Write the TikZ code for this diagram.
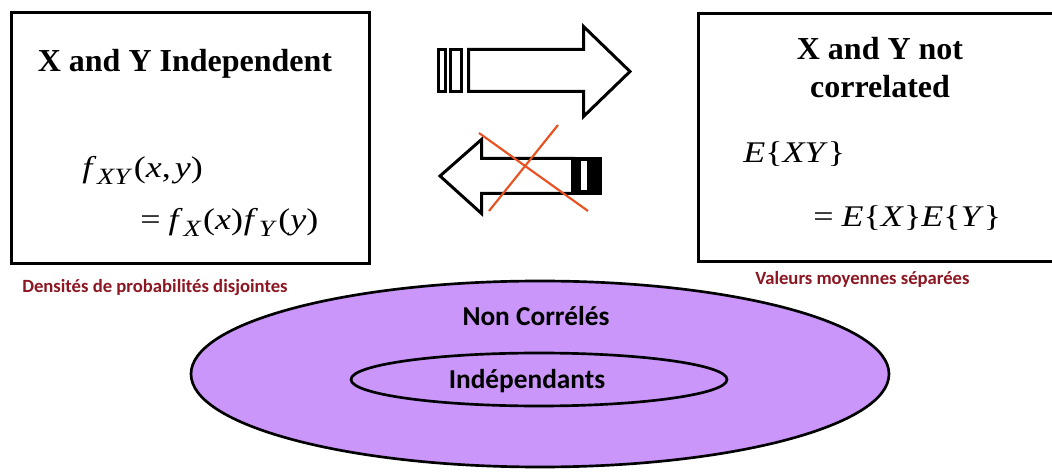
\documentclass[tikz,border=0pt]{standalone}
\usepackage{fontspec}
\setmainfont{Liberation Serif}
\newfontfamily\calib{Carlito}
\usetikzlibrary{shapes.geometric}
\definecolor{capred}{RGB}{140,22,34}
\definecolor{crossred}{RGB}{232,82,32}
\definecolor{lilac}{RGB}{202,150,250}
\newcommand{\mysub}[1]{\raisebox{-5pt}{\fontsize{17.5}{20}\selectfont\textit{#1}}}
\begin{document}
\begin{tikzpicture}[x=0.75pt,y=-0.75pt,
  box/.style={draw, line width=2.25pt, inner sep=0pt, rectangle},
  ttl/.style={font=\bfseries\fontsize{24}{28}\selectfont, inner sep=0pt, anchor=base},
  mth/.style={font=\fontsize{22.5}{26}\selectfont, inner sep=0pt, anchor=base west},
  capt/.style={font=\calib\bfseries\fontsize{14}{16}\selectfont, text=capred, inner sep=0pt, anchor=base west},
  elltxt/.style={font=\calib\bfseries\fontsize{20.5}{24}\selectfont, inner sep=0pt, anchor=base},
  ell/.style={draw, ellipse, line width=2pt, fill=lilac, inner sep=0pt},
  arr/.style={draw, line width=2.25pt, fill=white, line join=miter},
  crossline/.style={draw=crossred, line width=1.6pt}]
\clip (0,0) rectangle (1052,473);
\fill[white] (0,0) rectangle (1052,473);
% boxes
\node[box, minimum width=268.5pt, minimum height=187.9pt] (lbox) at (190.5,138.25) {};
\node[box, minimum width=271.1pt, minimum height=186pt] (rbox) at (879.25,137.5) {};
% titles
\node[ttl] (ltitle) at (185,72) {X and Y Independent};
\node[ttl] (rtitle1) at (880,60) {X and Y not};
\node[ttl] (rtitle2) at (880,98) {correlated};
% formulas
\node[mth] (f1) at (82,178) {\scalebox{1.2}[1]{\textit{f}\kern0.5pt\mysub{XY}\kern1pt(\textit{x},\kern2.5pt\textit{y})}};
\node[mth] (f2) at (140,230) {\scalebox{1.2}[1]{=\kern5pt\textit{f}\kern0.5pt\mysub{X}\kern1pt(\textit{x})\kern0.5pt\textit{f}\kern0.5pt\mysub{Y}\kern1pt(\textit{y})}};
\node[mth] (e1) at (743,163) {\scalebox{1.2}[1]{\textit{E}\{\textit{XY}\}}};
\node[mth] (e2) at (813,227) {\scalebox{1.2}[1]{=\kern5pt\textit{E}\{\textit{X}\}\textit{E}\{\textit{Y}\}}};
% captions
\node[capt] (c1) at (22,293) {Densités de probabilités disjointes};
\node[capt] (c2) at (755,285) {Valeurs moyennes séparées};
% right arrow
\draw[arr] (468.5,49.5) -- (583.5,49.5) -- (583.5,26.5) -- (630,71.5) -- (583.5,116.5) -- (583.5,91.5) -- (468.5,91.5) -- cycle;
\draw[arr] (438.5,49.5) rectangle (445.5,91.5);
\draw[arr] (450.5,49.5) rectangle (461.5,91.5);
% left arrow
\draw[arr] (573,158.5) -- (481.5,158.5) -- (481.5,139.5) -- (440,176) -- (481.5,213.5) -- (481.5,193.5) -- (573,193.5) -- cycle;
\fill[black] (571,157.4) rectangle (602,194.6);
\fill[white] (581,161.5) rectangle (587,190.5);
% cross
\draw[crossline] (479,133) -- (588,211);
\draw[crossline] (558,125) -- (489,211);
% ellipses
\node[ell, minimum width=523.5pt, minimum height=139.5pt] (outer) at (540,374) {};
\node[ell, minimum width=282pt, minimum height=39.75pt] (inner) at (539,379.5) {};
\node[elltxt] (t1) at (536,326) {Non Corrélés};
\node[elltxt] (t2) at (527,388) {Indépendants};
\end{tikzpicture}
\end{document}
